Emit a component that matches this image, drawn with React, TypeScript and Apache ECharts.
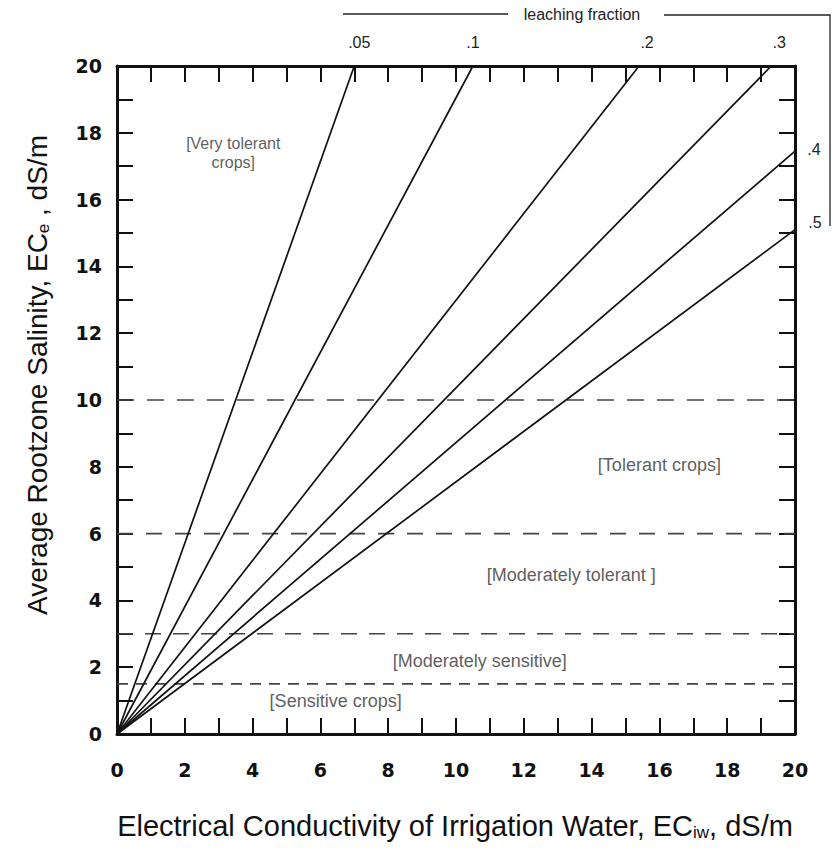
import React, { useEffect, useRef } from "react";
import * as echarts from "echarts";

// Leaching fraction lines: drawn from the origin to where they leave the plot
const leachLabels = [".05", ".1", ".2", ".3", ".4", ".5"];
const leachEndX = [7.0, 10.5, 15.4, 19.3, 20, 20];
const leachEndY = [20, 20, 20, 20, 17.45, 15.1];

// Crop tolerance thresholds (dashed lines), dS/m
const thresholds = [10, 6, 3, 1.5];

// Region labels, positioned in data units
const regionNames = ["[Very tolerant\ncrops]", "[Tolerant crops]", "[Moderately tolerant ]", "[Moderately sensitive]", "[Sensitive crops]"];
const regionX = [3.43, 16.0, 13.4, 10.7, 6.45];
const regionY = [17.4, 8.05, 4.75, 2.2, 1.0];

const xTicks = [0, 2, 4, 6, 8, 10, 12, 14, 16, 18, 20];
const yTicks = [0, 2, 4, 6, 8, 10, 12, 14, 16, 18, 20];

const labelOffsets: Array<[number, number]> = [
  [5, -24], [0, -24], [8, -24], [8, -24], [19, -2], [20, -7],
];
const dashPatterns = [[17, 13], [16, 13], [16, 12], [11, 8]];
const regionFontSizes = [16, 18, 18, 18, 18];

export default function App() {
  const ref = useRef<HTMLDivElement>(null);
  useEffect(() => {
    if (!ref.current) return;
    const chart = echarts.init(ref.current, null, { renderer: "svg" });
    const font = "Liberation Sans, Arial, sans-serif";
    const tickFont = "DejaVu Sans, sans-serif";
    const axisCommon = {
      type: "value" as const,
      min: 0,
      max: 20,
      interval: 2,
      axisLine: { show: true, onZero: false, lineStyle: { color: "#111", width: 3 } },
      axisTick: { show: true, inside: true, length: 16, lineStyle: { color: "#111", width: 2 } },
      minorTick: { show: true, splitNumber: 2, length: 16, lineStyle: { color: "#111", width: 2 } },
      splitLine: { show: false },
    };
    const lineSeries = leachLabels.map((name, i) => ({
      type: "line",
      name,
      data: [[0, 0], [leachEndX[i], leachEndY[i]]],
      showSymbol: false,
      symbol: "none",
      lineStyle: { color: "#111", width: 1.7 },
      endLabel: {
        show: true,
        formatter: name,
        distance: 0,
        offset: labelOffsets[i],
        align: "center",
        verticalAlign: "middle",
        fontSize: 16,
        fontFamily: font,
        color: "#222",
      },
      z: 3,
    }));
    const dashSeries = thresholds.map((t, i) => ({
      type: "line",
      data: [[0, t], [20, t]],
      showSymbol: false,
      symbol: "none",
      lineStyle: { color: "#444", width: 1.6, type: dashPatterns[i] },
      z: 2,
    }));
    const regionSeries = {
      type: "scatter",
      data: regionNames.map((n, i) => ({
        value: [regionX[i], regionY[i]],
        name: n,
        label: { fontSize: regionFontSizes[i], lineHeight: regionFontSizes[i] + 3 },
      })),
      symbolSize: 0,
      label: {
        show: true,
        position: "inside",
        formatter: (p: any) => p.name,
        fontFamily: font,
        color: "#333",
      },
      silent: true,
      z: 4,
    };
    const subStyle = { fontSize: 17, verticalAlign: "bottom", padding: [12, 0, 0, 0], fontFamily: font, fill: "#111" };
    chart.setOption({
      animation: false,
      backgroundColor: "#fff",
      grid: { left: 117, right: 38, top: 66, bottom: 118 },
      xAxis: [
        {
          ...axisCommon,
          position: "bottom",
          axisLabel: {
            show: true,
            margin: 26,
            fontSize: 19,
            fontWeight: "bold",
            fontFamily: tickFont,
            color: "#111",
            customValues: xTicks,
          },
        },
        { ...axisCommon, position: "top", axisLabel: { show: false } },
      ],
      yAxis: [
        {
          ...axisCommon,
          position: "left",
          axisLabel: {
            show: true,
            margin: 15,
            fontSize: 19,
            fontWeight: "bold",
            fontFamily: tickFont,
            color: "#111",
            customValues: yTicks,
          },
        },
        { ...axisCommon, position: "right", axisLabel: { show: false } },
      ],
      series: [...lineSeries, ...dashSeries, regionSeries],
      graphic: [
        {
          type: "text",
          x: 455,
          y: 826,
          style: {
            text: "Electrical Conductivity of Irrigation Water, EC{sub|iw}, dS/m",
            fontSize: 29,
            fontFamily: font,
            fill: "#111",
            align: "center",
            verticalAlign: "middle",
            rich: { sub: subStyle },
          },
        },
        {
          type: "text",
          x: 37,
          y: 375,
          rotation: Math.PI / 2,
          style: {
            text: "Average Rootzone Salinity, EC{sub|e} , dS/m",
            fontSize: 28,
            fontFamily: font,
            fill: "#111",
            align: "center",
            verticalAlign: "middle",
            rich: { sub: subStyle },
          },
        },
        {
          type: "line",
          shape: { x1: 343, y1: 14, x2: 508, y2: 14 },
          style: { stroke: "#222", lineWidth: 1.3 },
        },
        {
          type: "text",
          x: 582,
          y: 14,
          style: {
            text: "leaching fraction",
            fontSize: 16,
            fontFamily: font,
            fill: "#222",
            align: "center",
            verticalAlign: "middle",
          },
        },
        {
          type: "polyline",
          shape: { points: [[664, 15], [830, 15], [830, 226]] },
          style: { stroke: "#222", lineWidth: 1.3, fill: "none" },
        },
      ],
    });
    return () => chart.dispose();
  }, []);
  return (
    <div
      ref={ref}
      style={{ position: "fixed", left: 0, top: 0, width: 833, height: 852, background: "#fff" }}
    />
  );
}
